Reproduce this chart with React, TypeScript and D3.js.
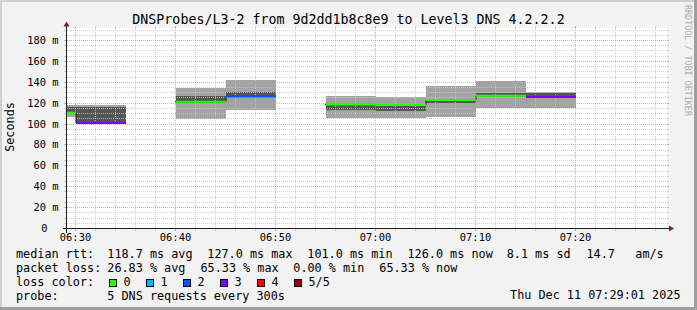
import React from "react";
import * as d3 from "d3";

// ---------- data ----------
const TITLE = "DNSProbes/L3-2 from 9d2dd1b8c8e9 to Level3 DNS 4.2.2.2";
const viewStart = "2025-12-11 06:29:10";
const viewEnd = "2025-12-11 07:29:10";
const stepSeconds = 300;
const sampleTimes = ["06:30", "06:35", "06:45", "06:50", "07:00", "07:05", "07:10", "07:15", "07:20"];
const medianMs = [110.9, 101.0, 121.4, 126.5, 118.8, 118.2, 123.0, 127.0, 126.0];
const smokeLowMs = [107.0, 100.6, 105.1, 113.7, 105.5, 105.5, 107.0, 115.7, 115.7];
const smokeHighMs = [118.5, 118.5, 134.8, 142.2, 126.9, 125.6, 136.4, 141.3, 130.4];
const innerLowMs = [110.5, 102.4, 120.6, 125.9, 113.5, 112.8, 120.6, 126.4, 124.9];
const innerHighMs = [116.6, 116.6, 126.9, 131.0, 118.8, 118.2, 123.7, 130.0, 129.7];
const lostPings = [0, 3, 0, 2, 0, 0, 0, 0, 3];

const yMaxMs = 191.5;
const yLabelValues = [0, 20, 40, 60, 80, 100, 120, 140, 160, 180];
const yMinorStep = 5;
const xLabelTimes = ["06:30", "06:40", "06:50", "07:00", "07:10", "07:20"];

const lossColors = ["#26ff00", "#00b8ff", "#0059ff", "#7e00ff", "#ff0000", "#a10000"];
const lossLabels = ["0", "1", "2", "3", "4", "5/5"];

const rttStats = ["118.7 ms avg", "127.0 ms max", "101.0 ms min", "126.0 ms now", "8.1 ms sd", "14.7", "am/s"];
const lossStats = ["26.83 % avg", "65.33 % max", "0.00 % min", "65.33 % now"];
const probeText = "5 DNS requests every 300s";
const dateText = "Thu Dec 11 07:29:01 2025";
const watermark = "RRDTOOL / TOBI OETIKER";

// ---------- layout ----------
const W = 697;
const H = 310;
const X0 = 67;
const X1 = 667;
const Y0 = 228.5;
const Y1 = 28.5;
const MONO = "'DejaVu Sans Mono', monospace";

const BG = "#f2f2f2";
const GRID = "rgba(200,200,200,0.85)";
const MGRID = "rgba(230,140,140,0.8)";
const AXIS = "#1f1f1f";
const ARROW = "#801f1f";
const SMOKE_LIGHT = "#a3a3a3";
const SMOKE_DARK = "#555555";

const parseFull = d3.timeParse("%Y-%m-%d %H:%M:%S");
const parseHM = (hm: string) => parseFull(`2025-12-11 ${hm}:00`) as Date;

export default function App() {
  const x = d3
    .scaleTime()
    .domain([parseFull(viewStart) as Date, parseFull(viewEnd) as Date])
    .range([X0, X1]);
  const y = d3.scaleLinear().domain([0, yMaxMs]).range([Y0, Y1]);

  const px = (t: Date) => Math.floor(x(t)) + 0.5;
  const py = (v: number) => Math.floor(y(v)) + 0.5;

  const segs = sampleTimes.map((hm, i) => {
    const end = parseHM(hm);
    const start = new Date(end.getTime() - stepSeconds * 1000);
    const xa = Math.max(X0, Math.floor(x(start)) + 1);
    const xb = Math.floor(x(end)) + 1;
    return { i, start, end, xa, xb };
  });

  // dark step line through medians
  let stepPath = "";
  segs.forEach((s, k) => {
    const ym = y(medianMs[s.i]);
    const prev = segs[k - 1];
    if (prev && prev.end.getTime() === s.start.getTime()) {
      stepPath += `V${ym}H${s.xb}`;
    } else {
      stepPath += `M${s.xa - 1},${ym}H${s.xb}`;
    }
  });

  // grid
  const majorMs = yLabelValues.filter((v) => v > 0);
  const minorMs = d3.range(yMinorStep, yMaxMs, yMinorStep).filter((v) => v % 20 !== 0);
  const dom = x.domain();
  const majorT = d3.timeMinute.every(10)!.range(dom[0], dom[1]);
  const minorT = d3.timeMinute
    .every(2)!
    .range(dom[0], dom[1])
    .filter((t) => t.getMinutes() % 10 !== 0);

  const legendBoxX0 = 109;
  const legendBoxGap = 37;

  return (
    <svg
      width={W}
      height={H}
      style={{ position: "absolute", left: 0, top: 0, display: "block" }}
      fontFamily={MONO}
    >
      <rect x={0} y={0} width={W} height={H} fill={BG} />
      {/* 3d frame */}
      <rect x={0} y={0} width={W} height={2} fill="#cfcfcf" />
      <rect x={0} y={0} width={2} height={H} fill="#cfcfcf" />
      <rect x={0} y={H - 3} width={W} height={3} fill="#9e9e9e" />
      <rect x={W - 3} y={0} width={3} height={H} fill="#9e9e9e" />

      {/* canvas */}
      <rect x={X0} y={Y1 - 0.5} width={X1 - X0} height={Y0 - Y1} fill="#ffffff" />

      {/* smoke */}
      <g shapeRendering="crispEdges">
        {segs.map((s) => (
          <rect
            key={`l${s.i}`}
            x={s.xa}
            width={s.xb - s.xa}
            y={y(smokeHighMs[s.i])}
            height={y(smokeLowMs[s.i]) - y(smokeHighMs[s.i])}
            fill={SMOKE_LIGHT}
          />
        ))}
        {segs.map((s) => (
          <rect
            key={`d${s.i}`}
            x={s.xa}
            width={s.xb - s.xa}
            y={y(innerHighMs[s.i])}
            height={y(innerLowMs[s.i]) - y(innerHighMs[s.i])}
            fill={SMOKE_DARK}
          />
        ))}
      </g>

      {/* grid */}
      <g strokeWidth={1} shapeRendering="crispEdges">
        {minorMs.map((v) => (
          <g key={`hm${v}`}>
            <line x1={X0} x2={X1} y1={py(v)} y2={py(v)} stroke={GRID} strokeDasharray="1,1" />
            <line x1={X0 - 3} x2={X0 - 1} y1={py(v)} y2={py(v)} stroke={GRID} />
            <line x1={X1} x2={X1 + 2} y1={py(v)} y2={py(v)} stroke={GRID} />
          </g>
        ))}
        {minorT.map((t) => (
          <g key={`vm${t.getTime()}`}>
            <line x1={px(t)} x2={px(t)} y1={Y1 - 0.5} y2={Y0} stroke={GRID} strokeDasharray="1,1" />
            <line x1={px(t)} x2={px(t)} y1={Y0 + 0.5} y2={Y0 + 2.5} stroke={GRID} />
            <line x1={px(t)} x2={px(t)} y1={Y1 - 2.5} y2={Y1 - 0.5} stroke={GRID} />
          </g>
        ))}
        {majorMs.map((v) => (
          <g key={`hM${v}`}>
            <line x1={X0} x2={X1} y1={py(v)} y2={py(v)} stroke={MGRID} strokeDasharray="1,1" />
            <line x1={X0 - 3} x2={X0 - 1} y1={py(v)} y2={py(v)} stroke={MGRID} />
            <line x1={X1} x2={X1 + 2} y1={py(v)} y2={py(v)} stroke={MGRID} />
          </g>
        ))}
        {majorT.map((t) => (
          <g key={`vM${t.getTime()}`}>
            <line x1={px(t)} x2={px(t)} y1={Y1 - 0.5} y2={Y0} stroke={MGRID} strokeDasharray="1,1" />
            <line x1={px(t)} x2={px(t)} y1={Y0 + 0.5} y2={Y0 + 2.5} stroke={MGRID} />
            <line x1={px(t)} x2={px(t)} y1={Y1 - 2.5} y2={Y1 - 0.5} stroke={MGRID} />
          </g>
        ))}
      </g>

      {/* median lines */}
      <path d={stepPath} fill="none" stroke="#202020" strokeWidth={1} />
      {segs.map((s) => (
        <line
          key={`m${s.i}`}
          x1={s.xa}
          x2={s.xb}
          y1={y(medianMs[s.i])}
          y2={y(medianMs[s.i])}
          stroke={lossColors[lostPings[s.i]]}
          strokeWidth={2}
        />
      ))}

      {/* axes */}
      <g shapeRendering="crispEdges">
        <line x1={X0 - 4} x2={X1 + 4} y1={Y0} y2={Y0} stroke={AXIS} strokeWidth={1} />
        <line x1={X0 - 0.5} x2={X0 - 0.5} y1={Y0 + 4} y2={Y1 - 4} stroke={AXIS} strokeWidth={1} />
      </g>
      <polygon
        points={`${X1 + 2},${Y0 - 3} ${X1 + 2},${Y0 + 3} ${X1 + 7},${Y0}`}
        fill={ARROW}
      />
      <polygon
        points={`${X0 - 3.5},${Y1 - 2} ${X0 + 2.5},${Y1 - 2} ${X0 - 0.5},${Y1 - 7}`}
        fill={ARROW}
      />

      {/* y labels */}
      <g fontSize={10.4} fill="#000">
        {yLabelValues.map((v) => (
          <text key={`yl${v}`} x={v === 0 ? 47.6 : 58.5} y={py(v) + 3.3} textAnchor="end">
            {v === 0 ? "0" : `${v} m`}
          </text>
        ))}
      </g>
      {/* x labels */}
      <g fontSize={10.4} fill="#000">
        {xLabelTimes.map((hm) => (
          <text key={`xl${hm}`} x={px(parseHM(hm))} y={241} textAnchor="middle">
            {hm}
          </text>
        ))}
      </g>

      {/* title */}
      <text x={348.5} y={23.7} fontSize={13.3} textAnchor="middle" fill="#000">
        {TITLE}
      </text>
      {/* unit label */}
      <text
        transform={`translate(14.3,127) rotate(-90)`}
        fontSize={11.8}
        textAnchor="middle"
        fill="#000"
      >
        Seconds
      </text>
      {/* watermark */}
      <text
        transform={`translate(685,5) rotate(90)`}
        fontSize={8.4}
        fill="#ababab"
      >
        {watermark}
      </text>

      {/* legend */}
      <g fontSize={11.8} fill="#000" style={{ whiteSpace: "pre" }}>
        <text x={16} y={258.4}>median rtt:</text>
        {rttStats.map((s, i) => (
          <text key={`r${i}`} x={[107.3, 207.3, 307.3, 407.5, 506.7, 586.5, 635.3][i]} y={258.4}>
            {s}
          </text>
        ))}
        <text x={16} y={272.2}>packet loss:</text>
        {lossStats.map((s, i) => (
          <text key={`p${i}`} x={[107.3, 200.5, 293.3, 379.3][i]} y={272.2}>
            {s}
          </text>
        ))}
        <text x={16} y={285.9}>loss color:</text>
        {lossLabels.map((lab, i) => (
          <g key={`lc${i}`}>
            <rect
              x={legendBoxX0 + i * legendBoxGap + 0.5}
              y={279.5}
              width={7}
              height={7}
              fill={lossColors[i]}
              stroke="#000"
              strokeWidth={1}
              shapeRendering="crispEdges"
            />
            <text x={legendBoxX0 + i * legendBoxGap + 14.5} y={285.9}>
              {lab}
            </text>
          </g>
        ))}
        <text x={16} y={299.6}>probe:</text>
        <text x={107.3} y={299.6}>{probeText}</text>
        <text x={680.5} y={299.4} textAnchor="end">
          {dateText}
        </text>
      </g>
    </svg>
  );
}
